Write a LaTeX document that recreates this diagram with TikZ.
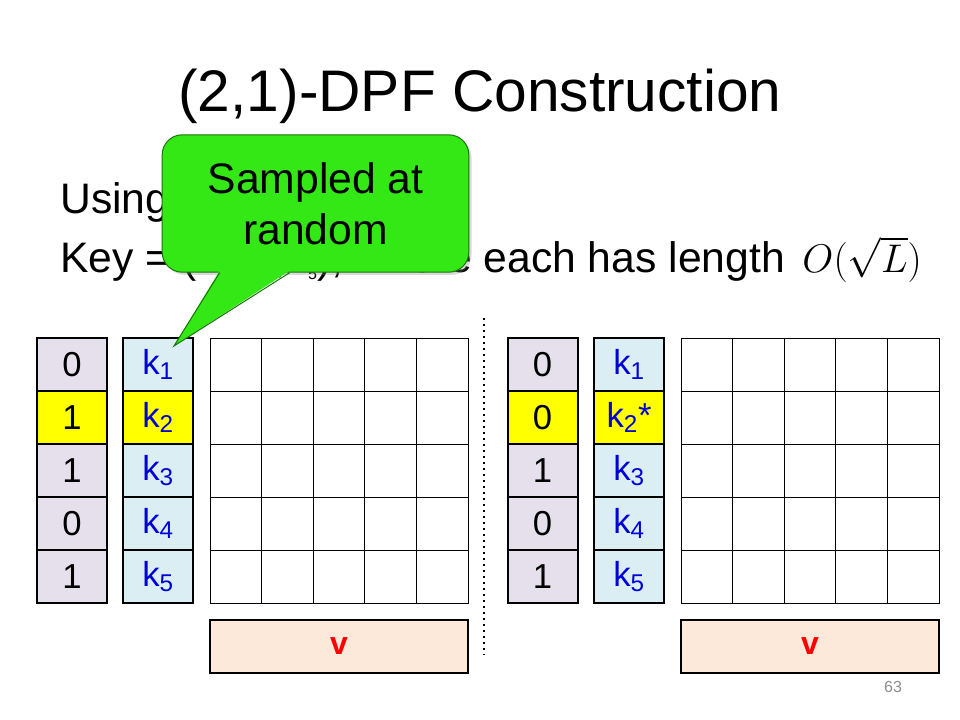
\RequirePackage{fix-cm}
\documentclass[tikz,border=0pt]{standalone}
\usepackage[no-math]{fontspec}
\setmainfont{Liberation Sans}
\usetikzlibrary{shadows}
\definecolor{BitClr}{rgb}{0.898,0.878,0.925}
\definecolor{KeyClr}{rgb}{0.859,0.933,0.957}
\definecolor{MarkClr}{rgb}{1,1,0}
\definecolor{VecClr}{rgb}{0.992,0.914,0.851}
\definecolor{KeyTxtClr}{rgb}{0,0,0.85}
\definecolor{NoteClr}{rgb}{0.2,0.91,0.08}
\definecolor{NoteLineClr}{rgb}{0.1,0.45,0.05}

\begin{document}
\begin{tikzpicture}[x=0.75pt,y=-0.75pt,
  bitcell/.style={draw,line width=1.5pt,minimum width=52.5pt,minimum height=39.75pt,inner sep=0pt,font=\fontsize{26}{30}\selectfont},
  keycell/.style={bitcell,text=KeyTxtClr},
  gridcell/.style={draw,fill=white,line width=0.75pt,minimum width=38.7pt,minimum height=39.75pt,inner sep=0pt,drop shadow={opacity=0.25,shadow xshift=1pt,shadow yshift=-1pt}},
  vecbox/.style={draw,fill=VecClr,line width=1.5pt,minimum width=193.5pt,minimum height=39.75pt,inner sep=0pt,text=red,font=\fontsize{24}{28}\selectfont\bfseries},
  slide/.style={font=\fontsize{32}{38}\selectfont,inner sep=0pt}]
\useasboundingbox (0,0) rectangle (960,720);

\node[font=\fontsize{44}{53}\selectfont,inner sep=0pt,anchor=base] (title) at (480,112) {(2,1)-DPF Construction};
\node[slide,anchor=base west] (usingline) at (60,214) {Using};
\node[slide,anchor=base west] (keyline) at (60,273) {Key = (k\textsubscript{\fontsize{12}{14}\selectfont 1},...,k\textsubscript{\fontsize{12}{14}\selectfont 5}), where each has length};
\node[font=\fontsize{30}{36}\selectfont,inner sep=0pt,anchor=base west] (bigO) at ([shift={(17,0)}]keyline.base east) {$O(\sqrt{L})$};

\foreach \s/\dx in {l/0,r/471}{
  \foreach \r in {1,...,5}
    \foreach \c in {1,...,5}
      \node[gridcell] (\s g\r\c) at (\dx+184.2+51.6*\c,311.5+53*\r) {};
  \node[vecbox] (\s v) at (\dx+339,646.5) {v};
}

\foreach \v/\f [count=\i] in {0/BitClr,1/MarkClr,1/BitClr,0/BitClr,1/BitClr}
  \node[bitcell,fill=\f] (lb\i) at (72,311.5+53*\i) {\v};
\foreach \f [count=\i] in {KeyClr,MarkClr,KeyClr,KeyClr,KeyClr}
  \node[keycell,fill=\f] (lk\i) at (158,311.5+53*\i) {k\textsubscript{\i}};

\foreach \v/\f [count=\i] in {0/BitClr,0/MarkClr,1/BitClr,0/BitClr,1/BitClr}
  \node[bitcell,fill=\f] (rb\i) at (542.5,311.5+53*\i) {\v};
\foreach \t/\f [count=\i] in {/KeyClr,*/MarkClr,/KeyClr,/KeyClr,/KeyClr}
  \node[keycell,fill=\f] (rk\i) at (629,311.5+53*\i) {k\textsubscript{\i}\t};

\coordinate (sepTop) at (484,318);
\coordinate (sepBot) at (484,655);
\draw[line width=1.5pt,dash pattern=on 1.5pt off 3pt] (sepTop) -- (sepBot);

\node[draw=NoteLineClr,fill=NoteClr,rounded corners=15pt,line width=0.75pt,minimum width=230pt,minimum height=103pt,align=center,font=\fontsize{32}{38}\selectfont,drop shadow={opacity=0.3,shadow xshift=2pt,shadow yshift=-2pt}] (note) at (315.5,203.5) {Sampled at\\random};
\coordinate (tip) at ([shift={(-20,9)}]lk1.north east);
\fill[NoteClr] ([shift={(58,-2)}]note.south west) -- (tip) -- ([shift={(128,-2)}]note.south west) -- cycle;
\draw[NoteLineClr,line width=0.75pt] ([shift={(58,0)}]note.south west) -- (tip) -- ([shift={(128,0)}]note.south west);

\node[text=black!45,font=\fontsize{12}{14}\selectfont] (page) at (893,687) {63};
\end{tikzpicture}
\end{document}
